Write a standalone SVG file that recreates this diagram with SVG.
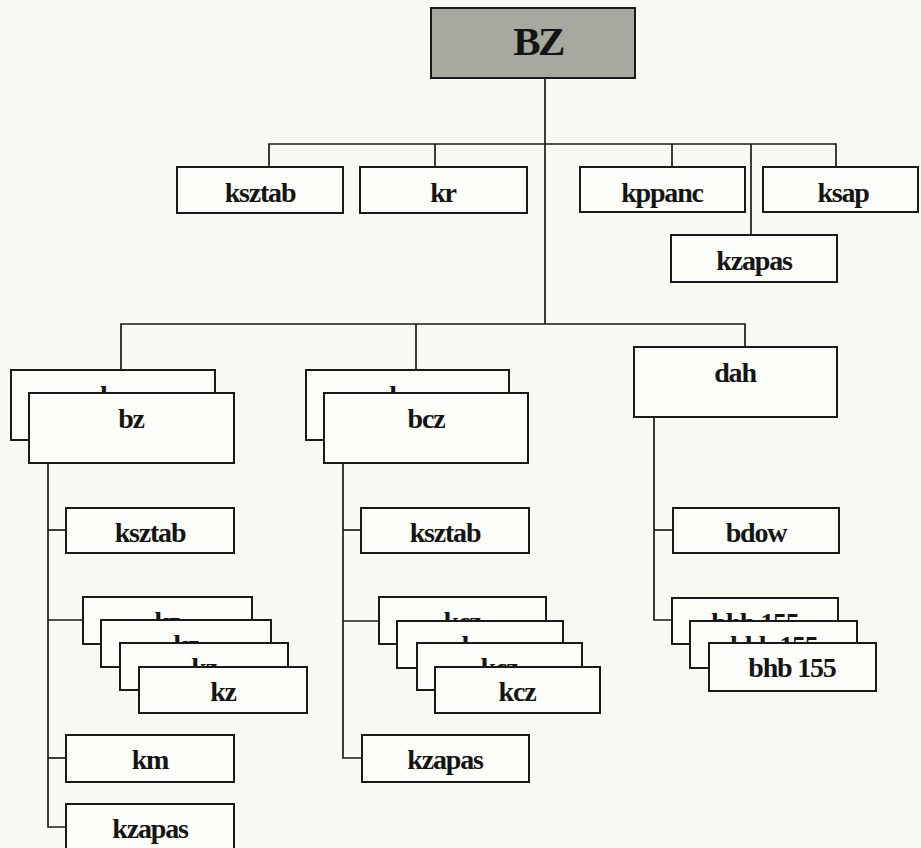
<svg xmlns="http://www.w3.org/2000/svg" width="921" height="848" viewBox="0 0 921 848">
<style>
.b{fill:#fdfdf9;stroke:#1a1a1a;stroke-width:2}
.t{font-family:"Liberation Serif","Times New Roman",serif;font-weight:bold;font-size:28px;letter-spacing:-1.2px;fill:#151515;text-anchor:middle}
.c{fill:none;stroke:#1a1a1a;stroke-width:1.7}
</style>
<defs>
<clipPath id="cb1" clipPathUnits="userSpaceOnUse"><rect x="11" y="370" width="204" height="23"/></clipPath>
<clipPath id="cb2" clipPathUnits="userSpaceOnUse"><rect x="306" y="370" width="203" height="23"/></clipPath>
<clipPath id="ck1" clipPathUnits="userSpaceOnUse"><rect x="83" y="597" width="169" height="23"/></clipPath>
<clipPath id="ck2" clipPathUnits="userSpaceOnUse"><rect x="101" y="620" width="170" height="23"/></clipPath>
<clipPath id="ck3" clipPathUnits="userSpaceOnUse"><rect x="120" y="643" width="168" height="24"/></clipPath>
<clipPath id="cc1" clipPathUnits="userSpaceOnUse"><rect x="379" y="597" width="167" height="24"/></clipPath>
<clipPath id="cc2" clipPathUnits="userSpaceOnUse"><rect x="397" y="621" width="166" height="22"/></clipPath>
<clipPath id="cc3" clipPathUnits="userSpaceOnUse"><rect x="417" y="643" width="165" height="24"/></clipPath>
<clipPath id="ch1" clipPathUnits="userSpaceOnUse"><rect x="672" y="598" width="166" height="23"/></clipPath>
<clipPath id="ch2" clipPathUnits="userSpaceOnUse"><rect x="690" y="621" width="167" height="22"/></clipPath>
</defs>
<rect width="921" height="848" fill="#fafaf5"/>
<g id="connectors" class="c">
<path d="M545 78V324"/>
<path d="M269 167V144H836V167"/>
<path d="M435 144V167"/>
<path d="M672 144V167"/>
<path d="M751 144V235"/>
<path d="M121 370V324H745V347"/>
<path d="M416 324V370"/>
<path d="M48 463V827H66"/>
<path d="M48 530H66"/>
<path d="M48 620H83"/>
<path d="M48 758H66"/>
<path d="M343 463V758H362"/>
<path d="M343 530H361"/>
<path d="M343 621H379"/>
<path d="M654 417V620H672"/>
<path d="M654 530H672"/>
</g>
<g id="n-BZ">
<rect x="431" y="8" width="204" height="70" fill="#a7a9a1" stroke="#1a1a1a" stroke-width="2"/>
<text x="538" y="55" class="t" style="font-size:41px;letter-spacing:-2.5px">BZ</text>
</g>
<g id="n-ksztab-top"><rect class="b" x="177" y="167" width="166" height="46"/><text class="t" x="260" y="202">ksztab</text></g>
<g id="n-kr"><rect class="b" x="360" y="167" width="167" height="46"/><text class="t" x="443" y="202">kr</text></g>
<g id="n-kppanc"><rect class="b" x="580" y="167" width="165" height="45"/><text class="t" x="662" y="202">kppanc</text></g>
<g id="n-ksap"><rect class="b" x="763" y="167" width="155" height="45"/><text class="t" x="843" y="202">ksap</text></g>
<g id="n-kzapas-top"><rect class="b" x="671" y="235" width="166" height="47"/><text class="t" x="754" y="270">kzapas</text></g>
<g id="n-bz">
<rect class="b" x="11" y="370" width="204" height="70"/><text class="t" x="113" y="405" clip-path="url(#cb1)">bz</text>
<rect class="b" x="29" y="393" width="205" height="70"/><text class="t" x="131" y="428">bz</text>
</g>
<g id="n-bcz">
<rect class="b" x="306" y="370" width="203" height="70"/><text class="t" x="408" y="405" clip-path="url(#cb2)">bcz</text>
<rect class="b" x="324" y="393" width="204" height="70"/><text class="t" x="426" y="428">bcz</text>
</g>
<g id="n-dah"><rect class="b" x="634" y="347" width="203" height="70"/><text class="t" x="735" y="382">dah</text></g>
<g id="n-ksztab-l"><rect class="b" x="66" y="508" width="168" height="45"/><text class="t" x="150" y="542">ksztab</text></g>
<g id="n-kz">
<rect class="b" x="83" y="597" width="169" height="47"/><text class="t" x="167" y="631" clip-path="url(#ck1)">kz</text>
<rect class="b" x="101" y="620" width="170" height="47"/><text class="t" x="186" y="654" clip-path="url(#ck2)">kz</text>
<rect class="b" x="120" y="643" width="168" height="47"/><text class="t" x="204" y="677" clip-path="url(#ck3)">kz</text>
<rect class="b" x="139" y="667" width="168" height="46"/><text class="t" x="223" y="701">kz</text>
</g>
<g id="n-km"><rect class="b" x="66" y="735" width="168" height="47"/><text class="t" x="150" y="769">km</text></g>
<g id="n-kzapas-l"><rect class="b" x="66" y="804" width="168" height="50"/><text class="t" x="150" y="838">kzapas</text></g>
<g id="n-ksztab-m"><rect class="b" x="361" y="508" width="168" height="45"/><text class="t" x="445" y="542">ksztab</text></g>
<g id="n-kcz">
<rect class="b" x="379" y="597" width="167" height="47"/><text class="t" x="462" y="631" clip-path="url(#cc1)">kcz</text>
<rect class="b" x="397" y="621" width="166" height="47"/><text class="t" x="480" y="655" clip-path="url(#cc2)">kcz</text>
<rect class="b" x="417" y="643" width="165" height="47"/><text class="t" x="499" y="677" clip-path="url(#cc3)">kcz</text>
<rect class="b" x="435" y="667" width="165" height="46"/><text class="t" x="517" y="701">kcz</text>
</g>
<g id="n-kzapas-m"><rect class="b" x="362" y="735" width="167" height="47"/><text class="t" x="445" y="769">kzapas</text></g>
<g id="n-bdow"><rect class="b" x="673" y="508" width="166" height="45"/><text class="t" x="756" y="542">bdow</text></g>
<g id="n-bhb">
<rect class="b" x="672" y="598" width="166" height="46"/><text class="t" x="755" y="632" clip-path="url(#ch1)">bhb 155</text>
<rect class="b" x="690" y="621" width="167" height="47"/><text class="t" x="774" y="655" clip-path="url(#ch2)">bhb 155</text>
<rect class="b" x="709" y="643" width="167" height="48"/><text class="t" x="792" y="677">bhb 155</text>
</g>
</svg>
